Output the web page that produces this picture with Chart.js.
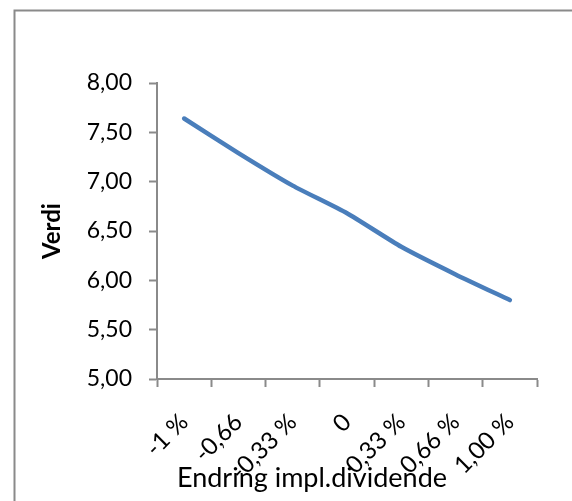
<!DOCTYPE html>
<html>
<head>
<meta charset="utf-8">
<script src="https://cdn.jsdelivr.net/npm/chart.js@4"></script>
<style>
  html, body { margin: 0; padding: 0; background: #fff; }
  #wrap { width: 572px; height: 501px; }
</style>
</head>
<body>
<div id="wrap"><canvas id="c" width="572" height="501"></canvas></div>
<script>
// Categories: change in implied dividend
const categories = ['-1 %', '-0,66', '-0,33 %', '0', '0,33 %', '0,66 %', '1,00 %'];
// Value for each change
const verdi = [7.64, 7.29, 6.96, 6.68, 6.34, 6.06, 5.80];
// Value axis range
const yMin = 5.0;
const yMax = 8.0;
const yStep = 0.5;

const axisGray = '#8a8a8a';
const fontFamily = 'Lato, "Open Sans", sans-serif';

// Outer frame around the chart object
const framePlugin = {
  id: 'frame',
  beforeDraw(chart) {
    const ctx = chart.ctx;
    ctx.save();
    ctx.fillStyle = '#ffffff';
    ctx.fillRect(0, 0, chart.width, chart.height);
    ctx.strokeStyle = axisGray;
    ctx.lineWidth = 2;
    ctx.strokeRect(14.5, 10.5, 700, 700);
    ctx.restore();
  }
};

// Category axis title, placed under the rotated labels
const xTitlePlugin = {
  id: 'xTitle',
  afterDraw(chart) {
    const ctx = chart.ctx;
    ctx.save();
    ctx.fillStyle = '#000';
    ctx.font = '27px ' + fontFamily;
    ctx.textAlign = 'center';
    ctx.textBaseline = 'alphabetic';
    ctx.fillText('Endring impl.dividende', 312, 487);
    ctx.restore();
  }
};

function zeroPad(scale) {
  scale.paddingLeft = 0;
  scale.paddingRight = 0;
  scale.paddingTop = 0;
  scale.paddingBottom = 0;
}

new Chart(document.getElementById('c'), {
  type: 'line',
  data: {
    labels: categories,
    datasets: [{
      data: verdi,
      borderColor: '#4a7ebb',
      borderWidth: 4.5,
      borderCapStyle: 'round',
      borderJoinStyle: 'round',
      tension: 0.2,
      pointRadius: 0,
      fill: false
    }]
  },
  options: {
    responsive: false,
    animation: false,
    events: [],
    layout: { padding: { left: 0, top: 83, right: 35, bottom: 0 } },
    plugins: {
      legend: { display: false },
      tooltip: { enabled: false },
      title: { display: false }
    },
    scales: {
      x: {
        type: 'category',
        offset: true,
        grid: {
          offset: true,
          drawOnChartArea: false,
          drawTicks: true,
          tickLength: 8,
          tickWidth: 2,
          tickColor: axisGray,
          color: axisGray
        },
        border: { display: true, color: axisGray, width: 2 },
        ticks: {
          autoSkip: false,
          maxRotation: 45,
          minRotation: 45,
          padding: 21,
          color: '#000',
          font: { family: fontFamily, size: 24 }
        },
        afterFit(scale) {
          scale.height = 122;
          zeroPad(scale);
        }
      },
      y: {
        min: yMin,
        max: yMax,
        grid: {
          drawOnChartArea: false,
          drawTicks: true,
          tickLength: 8,
          tickWidth: 2,
          tickColor: axisGray,
          color: axisGray
        },
        border: { display: true, color: axisGray, width: 2 },
        ticks: {
          stepSize: yStep,
          padding: 17,
          color: '#000',
          font: { family: fontFamily, size: 23 },
          callback: (v) => Number(v).toFixed(2).replace('.', ',')
        },
        title: {
          display: true,
          text: 'Verdi',
          color: '#000',
          font: { family: fontFamily, size: 24, weight: 'bold' },
          padding: { top: 38, bottom: 0 }
        },
        afterFit(scale) {
          scale.width = 157;
          zeroPad(scale);
        }
      }
    }
  },
  plugins: [framePlugin, xTitlePlugin]
});
</script>
</body>
</html>
